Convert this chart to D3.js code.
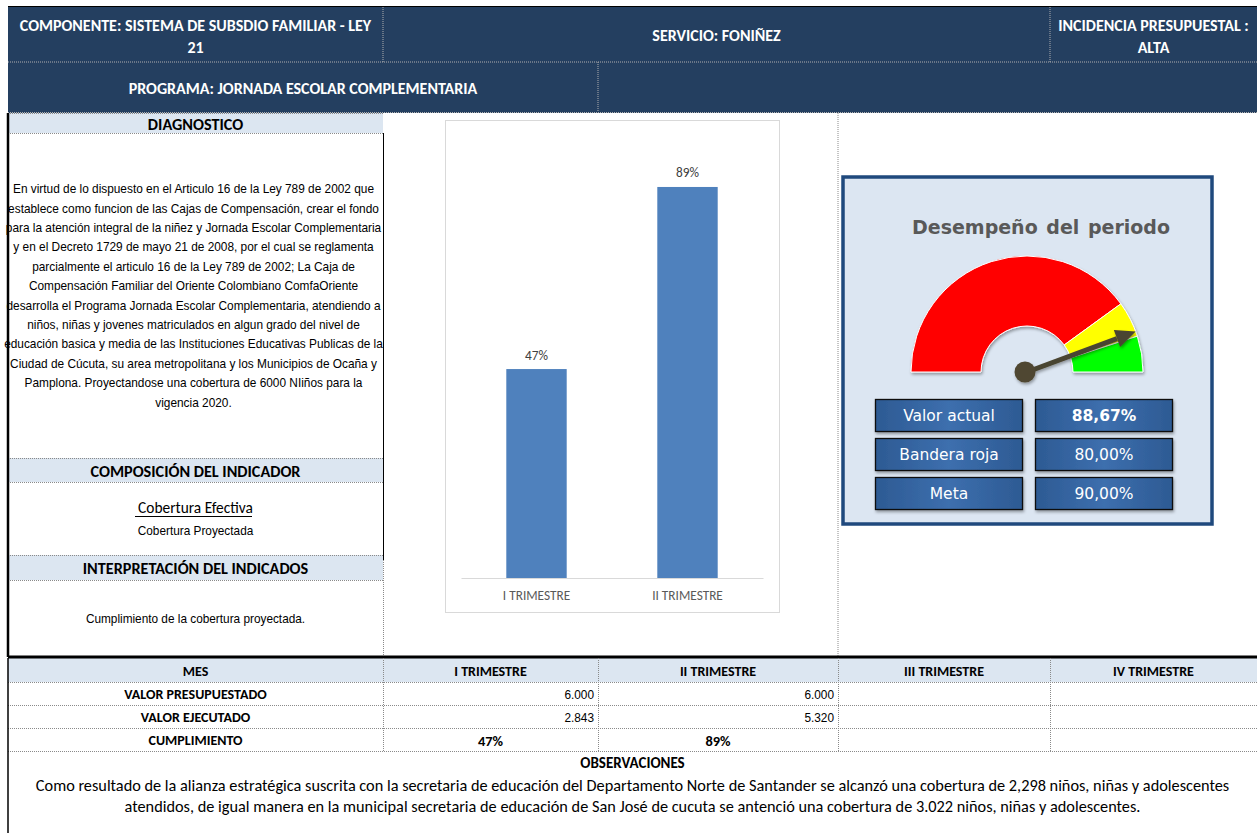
<!DOCTYPE html>
<html>
<head>
<meta charset="utf-8">
<script src="https://cdn.jsdelivr.net/npm/d3@7"></script>
<style>
  body { margin: 0; background: #fff; }
  .calibri { font-family: Carlito, Calibri, Lato, sans-serif; }
  .narrow { font-family: "Liberation Sans", Arial, sans-serif; }
  .tahoma { font-family: "DejaVu Sans", Verdana, sans-serif; }
</style>
</head>
<body>
<script>
var trimestres = ["I TRIMESTRE", "II TRIMESTRE", "III TRIMESTRE", "IV TRIMESTRE"];
var presupuestado = ["6.000", "6.000", "", ""];
var ejecutado = ["2.843", "5.320", "", ""];
var cumplimiento = [0.4738, 0.8867];
var cumplimientoLabel = ["47%", "89%", "", ""];

var gaugeLimits = [0, 0.80, 0.90, 1.0];
var gaugeColors = ["#FF0000", "#FFFF00", "#00FF00"];
var valorActual = 0.8867;
var gaugeRows = ["Valor actual", "Bandera roja", "Meta"];
var gaugeValues = ["88,67%", "80,00%", "90,00%"];

var diagnostico = [
  "En virtud de lo dispuesto en el Articulo 16 de la Ley 789 de 2002 que",
  "establece como funcion de  las Cajas de Compensación, crear el fondo",
  "para la atención integral de la niñez y Jornada Escolar Complementaria",
  "y en el Decreto 1729 de mayo 21 de 2008, por el cual se reglamenta",
  "parcialmente el articulo 16 de la Ley 789 de 2002; La Caja de",
  "Compensación Familiar del Oriente Colombiano ComfaOriente",
  "desarrolla el Programa Jornada Escolar Complementaria, atendiendo a",
  "niños, niñas y jovenes matriculados en algun grado del nivel de",
  "educación basica y media de las Instituciones Educativas Publicas de la",
  "Ciudad de Cúcuta, su area metropolitana y los Municipios de Ocaña y",
  "Pamplona. Proyectandose una cobertura de 6000  NIiños para la",
  "vigencia 2020."
];
var observaciones = [
  "Como resultado de la alianza estratégica suscrita con la secretaria de educación del Departamento Norte de Santander se alcanzó una cobertura de 2,298 niños, niñas y adolescentes",
  "atendidos, de igual manera en la municipal secretaria de educación de San José de cucuta se antenció una cobertura de 3.022 niños, niñas y adolescentes."
];

// grid of the sheet
var W = 1257, H = 833;
var X0 = 8, X1 = 383, X2 = 598, X3 = 838, X4 = 1050, XR = 1257;
var navy = "#243F60", light = "#DCE6F1";
var squeeze = 0.91; // Arial Narrow look

var svg = d3.select("body").append("svg")
    .attr("width", W).attr("height", H);

var defs = svg.append("defs");
var grad = defs.append("linearGradient").attr("id", "boxGrad")
    .attr("x1", "0%").attr("x2", "100%").attr("y1", "0%").attr("y2", "0%");
grad.append("stop").attr("offset", "0%").attr("stop-color", "#2D5A93");
grad.append("stop").attr("offset", "50%").attr("stop-color", "#3D6FAE");
grad.append("stop").attr("offset", "100%").attr("stop-color", "#2D5A93");
var sh = defs.append("filter").attr("id", "shadow").attr("x", "-20%").attr("y", "-20%").attr("width", "140%").attr("height", "150%");
sh.append("feDropShadow").attr("dx", 1).attr("dy", 2).attr("stdDeviation", 1.5).attr("flood-color", "#000").attr("flood-opacity", 0.35);

function dotted(x1, y1, x2, y2, col) {
  svg.append("line").attr("x1", x1).attr("y1", y1).attr("x2", x2).attr("y2", y2)
    .attr("stroke", col || "#8a8a8a").attr("stroke-width", 1).attr("stroke-dasharray", "1,1");
}
function solid(x1, y1, x2, y2, w) {
  svg.append("line").attr("x1", x1).attr("y1", y1).attr("x2", x2).attr("y2", y2)
    .attr("stroke", "#000").attr("stroke-width", w || 1);
}
function label(x, y, s, cls, size, weight, fill, anchor) {
  return svg.append("text").attr("class", cls).attr("x", x).attr("y", y)
    .attr("font-size", size).attr("font-weight", weight || "normal")
    .attr("fill", fill || "#000").attr("text-anchor", anchor || "middle")
    .attr("dominant-baseline", "central").text(s);
}
function narrow(x, y, s, size, anchor) {
  return svg.append("text").attr("class", "narrow")
    .attr("transform", "translate(" + x + "," + y + ") scale(" + squeeze + ",1)")
    .attr("font-size", size).attr("fill", "#000").attr("text-anchor", anchor || "middle")
    .attr("dominant-baseline", "central").text(s);
}

// ---- header
svg.append("rect").attr("x", X0).attr("y", 7).attr("width", XR - X0).attr("height", 106).attr("fill", navy);
solid(X0, 6.5, XR, 6.5, 1);
dotted(X0, 62, XR, 62, "#b0b0b0");
dotted(X0, 112.5, XR, 112.5, "#b0b0b0");
dotted(X1, 7, X1, 62, "#b0b0b0");
dotted(X4, 7, X4, 62, "#b0b0b0");
dotted(X2, 62, X2, 112, "#b0b0b0");
label((X0 + X1) / 2, 25, "COMPONENTE: SISTEMA DE SUBSDIO FAMILIAR - LEY", "calibri", 16, "bold", "#fff");
label((X0 + X1) / 2, 47, "21", "calibri", 16, "bold", "#fff");
label((X1 + X4) / 2, 35, "SERVICIO: FONIÑEZ", "calibri", 16, "bold", "#fff");
label((X4 + XR) / 2, 25, "INCIDENCIA PRESUPUESTAL :", "calibri", 16, "bold", "#fff");
label((X4 + XR) / 2, 47, "ALTA", "calibri", 16, "bold", "#fff");
label((X0 + X2) / 2, 88, "PROGRAMA: JORNADA ESCOLAR COMPLEMENTARIA", "calibri", 16, "bold", "#fff");

// ---- left column
var sections = [
  {y: 113, h: 20, t: "DIAGNOSTICO"},
  {y: 458, h: 24, t: "COMPOSICIÓN DEL INDICADOR"},
  {y: 555, h: 25, t: "INTERPRETACIÓN DEL INDICADOS"}
];
svg.selectAll(".sec").data(sections).enter().append("rect")
  .attr("x", X0).attr("y", function(d){return d.y}).attr("width", X1 - X0)
  .attr("height", function(d){return d.h}).attr("fill", light);
sections.forEach(function(d){
  dotted(X0, d.y + 0.5, X1, d.y + 0.5);
  dotted(X0, d.y + d.h + 0.5, X1, d.y + d.h + 0.5);
  label((X0 + X1) / 2, d.y + d.h / 2 + 1, d.t, "calibri", 16.2, "bold", "#000");
});
svg.append("g").attr("transform", "translate(" + ((X0 + X1) / 2 - 2) + ",0) scale(0.885,1)")
  .selectAll("text").data(diagnostico).enter().append("text")
  .attr("class", "narrow").attr("x", 0)
  .attr("y", function(d, i){return 189 + i * 19.4})
  .attr("font-size", 13.4).attr("text-anchor", "middle").attr("dominant-baseline", "central")
  .attr("fill", "#000").text(function(d){return d});
label((X0 + X1) / 2, 507, "Cobertura Efectiva", "calibri", 15.4, "normal", "#000");
solid(135, 516.5, 252, 516.5, 1.2);
narrow((X0 + X1) / 2, 531, "Cobertura Proyectada", 13);
narrow((X0 + X1) / 2, 619, "Cumplimiento de la cobertura proyectada.", 13);
solid(X0, 113, X0, 657, 2.5);
solid(X1 + 0.5, 133, X1 + 0.5, 560, 1);
dotted(X1 + 0.5, 560, X1 + 0.5, 657);
dotted(X3, 113, X3, 657);

// ---- bar chart
svg.append("rect").attr("x", 445.5).attr("y", 120.5).attr("width", 334).attr("height", 492)
  .attr("fill", "#fff").attr("stroke", "#d9d9d9");
var x = d3.scaleBand().domain(trimestres.slice(0, 2)).range([461, 763])
  .paddingInner(0.6).paddingOuter(0.3);
var y = d3.scaleLinear().domain([0, 1]).range([578, 137]);
var chart = svg.append("g");
chart.selectAll("rect").data(cumplimiento).enter().append("rect")
  .attr("x", function(d, i){return x(trimestres[i])})
  .attr("y", function(d){return y(d)})
  .attr("width", x.bandwidth())
  .attr("height", function(d){return y(0) - y(d)})
  .attr("fill", "#4F81BD");
chart.selectAll(".val").data(cumplimiento).enter().append("text")
  .attr("class", "calibri val")
  .attr("x", function(d, i){return x(trimestres[i]) + x.bandwidth() / 2})
  .attr("y", function(d){return y(d) - 14})
  .attr("font-size", 13.3).attr("fill", "#404040").attr("text-anchor", "middle")
  .attr("dominant-baseline", "central")
  .text(function(d, i){return cumplimientoLabel[i]});
var xAxis = chart.append("g").attr("transform", "translate(0,578)")
  .call(d3.axisBottom(x).tickSize(0).tickPadding(13));
xAxis.select(".domain").attr("stroke", "#d9d9d9").attr("stroke-width", 1.2);
xAxis.selectAll("text").attr("class", "calibri").attr("font-size", 13.3).attr("fill", "#595959");

// ---- gauge panel
svg.append("rect").attr("x", 843).attr("y", 177).attr("width", 369).attr("height", 347)
  .attr("fill", "#DCE6F2").attr("stroke", "#1F497D").attr("stroke-width", 3.5);
svg.append("text").attr("class", "tahoma").attr("x", 1041).attr("y", 227)
  .attr("font-size", 19).attr("font-weight", "bold").attr("fill", "#595959")
  .attr("text-anchor", "middle").attr("dominant-baseline", "central")
  .attr("word-spacing", 2).text("Desempeño del periodo");

var cx = 1027, cy = 372;
var ang = d3.scaleLinear().domain([0, 1]).range([-Math.PI / 2, Math.PI / 2]);
var arc = d3.arc().innerRadius(46).outerRadius(116);
var bands = gaugeColors.map(function(c, i){return {a: gaugeLimits[i], b: gaugeLimits[i + 1], c: c}});
svg.append("g").attr("transform", "translate(" + cx + "," + cy + ")")
  .attr("filter", "url(#shadow)")
  .selectAll("path").data(bands).enter().append("path")
  .attr("d", function(d){return arc({startAngle: ang(d.a), endAngle: ang(d.b)})})
  .attr("fill", function(d){return d.c})
  .attr("stroke", "#fff").attr("stroke-width", 1);

// needle
var a = ang(valorActual), L = 116;
var tipX = cx + L * Math.sin(a), tipY = cy - L * Math.cos(a);
var ux = Math.sin(a), uy = -Math.cos(a);
var bx = tipX - 20 * ux, by = tipY - 20 * uy;
var needle = svg.append("g").attr("filter", "url(#shadow)");
needle.append("line").attr("x1", cx).attr("y1", cy).attr("x2", bx).attr("y2", by)
  .attr("stroke", "#4A4530").attr("stroke-width", 5);
needle.append("path")
  .attr("d", "M" + tipX + "," + tipY +
    "L" + (bx - 9 * uy) + "," + (by + 9 * ux) +
    "L" + (bx + 9 * uy) + "," + (by - 9 * ux) + "Z")
  .attr("fill", "#4A4530");
needle.append("circle").attr("cx", cx - 2).attr("cy", cy).attr("r", 10.5).attr("fill", "#4F4731");

// value boxes
var rowY = [399, 438, 477];
var boxes = svg.append("g");
boxes.selectAll(".lb").data(gaugeRows).enter().append("rect")
  .attr("x", 875.5).attr("y", function(d, i){return rowY[i] + 0.5}).attr("width", 147).attr("height", 32)
  .attr("fill", "url(#boxGrad)").attr("stroke", "#111").attr("stroke-width", 1.3).attr("filter", "url(#shadow)");
boxes.selectAll(".vb").data(gaugeValues).enter().append("rect")
  .attr("x", 1035.5).attr("y", function(d, i){return rowY[i] + 0.5}).attr("width", 137).attr("height", 32)
  .attr("fill", "url(#boxGrad)").attr("stroke", "#111").attr("stroke-width", 1.3).attr("filter", "url(#shadow)");
boxes.selectAll(".lt").data(gaugeRows).enter().append("text")
  .attr("class", "tahoma").attr("x", 949).attr("y", function(d, i){return rowY[i] + 17})
  .attr("font-size", 15.5).attr("fill", "#fff").attr("text-anchor", "middle").attr("dominant-baseline", "central")
  .text(function(d){return d});
boxes.selectAll(".vt").data(gaugeValues).enter().append("text")
  .attr("class", "tahoma").attr("x", 1104).attr("y", function(d, i){return rowY[i] + 17})
  .attr("font-size", 15.5).attr("font-weight", function(d, i){return i == 0 ? "bold" : "normal"})
  .attr("fill", "#fff").attr("text-anchor", "middle").attr("dominant-baseline", "central")
  .text(function(d){return d});

// ---- table
var cols = [X0, X1, X2, X3, X4, XR];
var rowsY = [658, 682, 705, 728, 751];
svg.append("rect").attr("x", X0).attr("y", rowsY[0]).attr("width", XR - X0).attr("height", rowsY[1] - rowsY[0]).attr("fill", light);
solid(X0, 657, XR, 657, 3);
rowsY.slice(1).forEach(function(v){ dotted(X0, v + 0.5, XR, v + 0.5); });
cols.slice(1, 5).forEach(function(v){ dotted(v + 0.5, rowsY[0], v + 0.5, rowsY[4]); });
var rowNames = ["MES", "VALOR PRESUPUESTADO", "VALOR EJECUTADO", "CUMPLIMIENTO"];
rowNames.forEach(function(n, r){
  label((X0 + X1) / 2, (rowsY[r] + rowsY[r + 1]) / 2 + 1, n, "calibri", 14, "bold", "#000");
});
trimestres.forEach(function(t, i){
  var cL = cols[i + 1], cR = cols[i + 2];
  label((cL + cR) / 2, (rowsY[0] + rowsY[1]) / 2 + 1, t, "calibri", 14, "bold", "#000");
  narrow(cR - 4, (rowsY[1] + rowsY[2]) / 2 + 1, presupuestado[i], 13, "end");
  narrow(cR - 4, (rowsY[2] + rowsY[3]) / 2 + 1, ejecutado[i], 13, "end");
  label((cL + cR) / 2, (rowsY[3] + rowsY[4]) / 2 + 1, cumplimientoLabel[i], "calibri", 14.4, "bold", "#000");
});
solid(X0, rowsY[0], X0, H, 1.5);

// ---- observaciones
label((X0 + XR) / 2, 763, "OBSERVACIONES", "calibri", 15, "bold", "#000");
svg.append("g").selectAll("text").data(observaciones).enter().append("text")
  .attr("class", "calibri").attr("x", (X0 + XR) / 2)
  .attr("y", function(d, i){return 785 + i * 21})
  .attr("font-size", 16.3).attr("text-anchor", "middle").attr("dominant-baseline", "central")
  .attr("fill", "#000").text(function(d){return d});
</script>
</body>
</html>
